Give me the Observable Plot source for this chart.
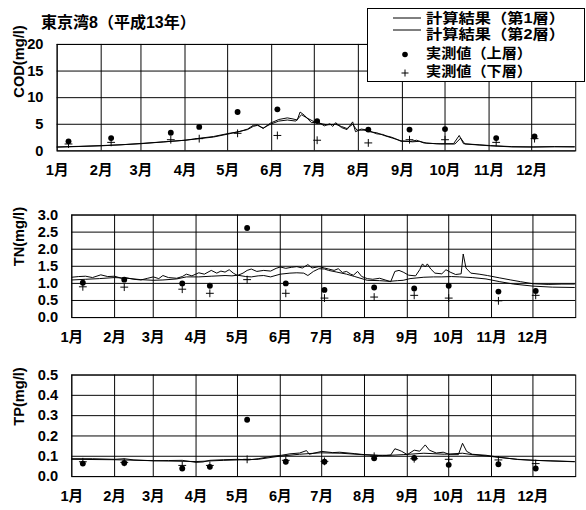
<!DOCTYPE html>
<html><head><meta charset="utf-8">
<script src="https://cdn.jsdelivr.net/npm/d3@7"></script>
<script src="https://cdn.jsdelivr.net/npm/@observablehq/plot@0.6"></script>
<style>
body{margin:0;background:#fff;}
#wrap{position:relative;width:586px;height:510px;overflow:hidden;background:#fff;font-family:"Liberation Sans","Noto Sans CJK JP",sans-serif;font-weight:bold;color:#000;}
.pane{position:absolute;left:0;}
#title{position:absolute;left:41px;top:15px;font-size:16px;line-height:16px;white-space:nowrap;}
#legend{position:absolute;left:0;top:0;}
</style></head>
<body><div id="wrap"><div id="title">東京湾8（平成13年）</div></div>
<script>
const FONT = '"Liberation Sans","Noto Sans CJK JP",sans-serif';
const monthLabels = ["1月","2月","3月","4月","5月","6月","7月","8月","9月","10月","11月","12月"];
const legendLabels = ["計算結果（第1層）","計算結果（第2層）","実測値（上層）","実測値（下層）"];
const obsDates = ["2001-01-09","2001-02-08","2001-03-22","2001-04-11","2001-05-08","2001-06-05","2001-07-03","2001-08-08","2001-09-06","2001-10-01","2001-11-06","2001-12-03"];

const codUpper = [1.8,2.4,3.4,4.5,7.3,7.8,5.6,4.0,4.0,4.1,2.4,2.7];
const codLower = [1.3,1.6,2.1,2.3,3.3,2.9,2.0,1.5,2.1,2.1,1.6,2.3];
const tnUpper = [1.02,1.11,1.0,0.93,2.62,1.0,0.81,0.88,0.85,0.93,0.76,0.78];
const tnLower = [0.9,0.89,0.83,0.71,1.11,0.71,0.57,0.6,0.65,0.57,0.49,0.65];
const tpUpper = [0.064,0.067,0.04,0.048,0.28,0.073,0.073,0.09,0.092,0.058,0.061,0.04];
const tpLower = [0.073,0.07,0.055,0.055,0.085,0.08,0.075,0.1,0.088,0.085,0.082,0.064];

const codDays1 = [0,15,31,45,59,75,90,98,110,121,128,134,138,141,145,150,156,162,166,169,171,174,179,184,188,192,194,196,200,204,208,210,214,219,222,225,229,232,235,238,242,249,253,258,267,279,283,286,297,305,320,335,350,364];
const cod1 = [0.75,0.85,1.0,1.15,1.4,1.7,2.0,2.3,2.7,3.3,3.6,4.1,4.8,4.9,4.2,5.2,5.9,6.2,6.0,5.8,7.3,6.7,5.3,5.4,4.7,5.1,4.6,5.3,4.4,4.0,5.45,3.6,4.1,3.9,3.5,3.2,3.1,2.8,2.6,2.3,1.8,1.8,2.0,1.5,1.35,1.35,2.9,1.35,1.15,1.0,0.8,0.75,0.8,0.75];
const codDays2 = [0,31,59,90,110,121,134,138,141,145,150,156,162,168,172,175,180,184,190,196,200,204,208,211,216,220,225,230,236,242,250,255,260,270,280,284,287,297,305,320,335,350,364];
const cod2 = [0.7,0.95,1.35,2.0,2.6,3.2,4.0,4.6,4.8,4.3,5.0,5.6,5.8,5.6,6.8,6.3,5.6,5.2,4.9,5.0,4.6,4.2,5.0,3.9,3.9,3.6,3.4,2.9,2.4,1.9,1.7,1.8,1.45,1.3,1.3,2.4,1.3,1.1,0.95,0.75,0.72,0.78,0.78];

const tnDays1 = [0,5,10,15,21,26,31,36,40,45,50,55,59,63,66,70,76,80,83,87,92,96,101,105,108,111,114,117,120,124,127,130,134,139,144,148,151,155,159,163,167,171,174,179,183,186,190,193,196,199,202,204,207,210,214,218,223,227,231,234,237,240,244,249,252,254,256,257.5,260,263,268,271,274,278,282,283.5,285.5,289,295,301,310,318,325,334,345,355,364];
const tn1 = [1.18,1.2,1.21,1.17,1.25,1.2,1.21,1.15,1.16,1.12,1.1,1.15,1.19,1.14,1.23,1.17,1.15,1.2,1.27,1.22,1.31,1.27,1.38,1.3,1.36,1.33,1.4,1.3,1.23,1.3,1.38,1.42,1.35,1.38,1.36,1.44,1.48,1.44,1.47,1.49,1.45,1.55,1.45,1.49,1.45,1.42,1.38,1.43,1.32,1.35,1.27,1.24,1.35,1.2,1.14,1.12,1.15,1.1,1.05,1.35,1.38,1.33,1.24,1.22,1.4,1.57,1.48,1.57,1.42,1.3,1.28,1.4,1.33,1.26,1.28,1.86,1.45,1.3,1.27,1.23,1.16,1.1,1.05,0.99,0.97,0.98,0.98];
const tnDays2 = [0,10,20,31,40,50,59,66,76,83,92,101,111,116,120,126,130,135,139,144,151,158,163,168,171,175,179,183,186,192,199,205,214,223,230,236,240,245,250,255,262,268,275,281,290,300,310,320,334,348,364];
const tn2 = [1.1,1.12,1.14,1.17,1.15,1.11,1.09,1.1,1.13,1.19,1.19,1.21,1.23,1.22,1.24,1.2,1.19,1.22,1.23,1.19,1.27,1.3,1.31,1.3,1.23,1.35,1.43,1.42,1.38,1.33,1.27,1.2,1.09,1.08,1.06,1.08,1.09,1.14,1.16,1.18,1.19,1.19,1.2,1.19,1.17,1.13,1.05,0.98,0.92,0.89,0.88];

const tpDays1 = [0,15,31,38,45,59,70,80,90,95,100,110,120,128,135,145,152,158,165,170,172,181,189,194,205,212,222,228,231,234,237,239,243,248,252,256,259,264,269,274,280,283,286,290,300,309,323,335,347,364];
const tp1 = [0.088,0.088,0.085,0.088,0.082,0.078,0.079,0.08,0.07,0.072,0.08,0.083,0.085,0.082,0.088,0.1,0.105,0.112,0.116,0.128,0.11,0.124,0.118,0.12,0.113,0.108,0.105,0.105,0.106,0.137,0.13,0.124,0.108,0.13,0.125,0.156,0.13,0.116,0.12,0.108,0.108,0.164,0.124,0.11,0.105,0.096,0.084,0.08,0.077,0.073];
const tpDays2 = [0,31,59,90,110,135,150,165,180,195,210,225,240,255,270,283,290,300,310,323,335,364];
const tp2 = [0.085,0.083,0.078,0.074,0.08,0.085,0.1,0.11,0.117,0.115,0.108,0.103,0.108,0.115,0.11,0.115,0.108,0.102,0.094,0.085,0.08,0.074];

const codTicks = [0,5,10,15,20];
const tnTicks = [0,0.5,1,1.5,2,2.5,3];
const tpTicks = [0,0.1,0.2,0.3,0.4,0.5];

const t0 = Date.UTC(2001,0,1);
const day = d => new Date(t0 + d*864e5);
const months = d3.utcMonth.range(new Date(t0), new Date(Date.UTC(2002,0,1)));

function panel(o){
  const s1 = o.d1.map((d,i)=>({date:day(d), v:o.v1[i]}));
  const s2 = o.d2.map((d,i)=>({date:day(d), v:o.v2[i]}));
  const obs = obsDates.map((s,i)=>({date:new Date(s+"T00:00Z"), up:o.up[i], low:o.low[i]}));
  return Plot.plot({
    width:600, height:o.h,
    marginLeft:o.ml, marginRight:11, marginTop:o.mt, marginBottom:o.mb,
    style:{fontFamily:FONT, fontSize:"15px", fontWeight:"bold", color:"#000", background:"transparent", overflow:"visible"},
    x:{type:"utc", domain:[new Date(t0), new Date(Date.UTC(2002,0,1))]},
    y:{domain:[o.ticks[0], o.ticks[o.ticks.length-1]]},
    marks:[
      Plot.gridX(months,{stroke:"#000", strokeOpacity:1, strokeWidth:1}),
      Plot.gridY(o.ticks,{stroke:"#000", strokeOpacity:1, strokeWidth:1}),
      Plot.line(s2,{x:"date", y:"v", stroke:"#000", strokeWidth:1}),
      Plot.line(s1,{x:"date", y:"v", stroke:"#000", strokeWidth:1}),
      Plot.dot(obs,{x:"date", y:"low", symbol:"plus", r:2.7, stroke:"#000", fill:"none", strokeWidth:1}),
      Plot.dot(obs,{x:"date", y:"up", r:3, fill:"#000", stroke:null}),
      Plot.frame({stroke:"#000"}),
      Plot.axisY(o.ticks,{tickSize:0, tickPadding:14, tickFormat:o.fmt, label:null}),
      Plot.axisX(months,{tickSize:0, tickPadding:14, tickFormat:d=>monthLabels[d.getUTCMonth()], label:null}),
      Plot.text([o.label],{frameAnchor:"left", rotate:-90, dx:19-o.ml, fontSize:15})
    ]
  });
}

const wrap = document.getElementById("wrap");
function place(svg, top){ svg.classList.add("pane"); svg.style.top = top+"px"; wrap.appendChild(svg); }

place(panel({d1:codDays1,v1:cod1,d2:codDays2,v2:cod2,up:codUpper,low:codLower,ticks:codTicks,fmt:d=>String(d),label:"COD(mg/l)",h:190,ml:58,mt:45,mb:36}), 0);
place(panel({d1:tnDays1,v1:tn1,d2:tnDays2,v2:tn2,up:tnUpper,low:tnLower,ticks:tnTicks,fmt:d3.format(".1f"),label:"TN(mg/l)",h:160,ml:73,mt:20,mb:35}), 195);
place(panel({d1:tpDays1,v1:tp1,d2:tpDays2,v2:tp2,up:tpUpper,low:tpLower,ticks:tpTicks,fmt:d3.format(".1f"),label:"TP(mg/l)",h:155,ml:73,mt:20,mb:31}), 355);

// legend box (overlapping the top panel)
const lg = d3.select(wrap).append("svg").attr("id","legend").attr("width",586).attr("height",90)
  .style("font-family",FONT).style("font-weight","bold").style("font-size","14px");
lg.append("rect").attr("x",367.5).attr("y",8.5).attr("width",217).attr("height",73).attr("fill","#fff").attr("stroke","#000");
const rowsY = [17.5,34,53,71];
const lineY = [18,30];
lineY.forEach(y=>lg.append("line").attr("x1",393).attr("x2",421).attr("y1",y).attr("y2",y).attr("stroke","#000"));
lg.append("circle").attr("cx",405).attr("cy",54.5).attr("r",2.8).attr("fill","#000");
lg.append("path").attr("d","M401.5,73H408.5M405,69.5V76.5").attr("stroke","#000").attr("fill","none");
legendLabels.forEach((t,i)=>lg.append("text").attr("x",426).attr("y",rowsY[i]).attr("dominant-baseline","central").attr("textLength",i<2?139:106).attr("lengthAdjust","spacingAndGlyphs").text(t));
</script></body></html>
